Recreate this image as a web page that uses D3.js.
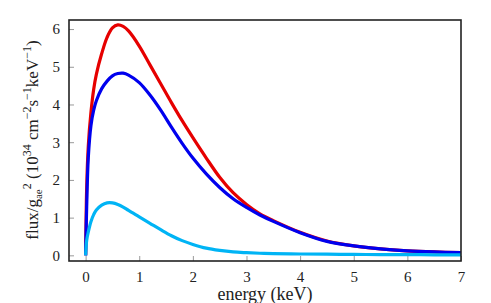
<!DOCTYPE html>
<html>
<head>
<meta charset="utf-8">
<script src="https://cdn.jsdelivr.net/npm/d3@7"></script>
<style>
  body { margin: 0; background: #fff; }
  svg text { font-family: "Liberation Serif", "DejaVu Serif", serif; fill: #222; }
</style>
</head>
<body>
<svg id="chart" width="491" height="303"></svg>
<script>
// energy grid (keV) and the three flux curves
const energy = [0, 0.02, 0.05, 0.1, 0.15, 0.2, 0.3, 0.4, 0.5, 0.6, 0.7, 0.8, 1.0, 1.2, 1.4, 1.6, 1.8,
  2.0, 2.25, 2.5, 2.75, 3.0, 3.25, 3.5, 4.0, 4.5, 5.0, 5.5, 6.0, 6.5, 7.0];
const fluxRed = [0, 1.8, 2.9, 3.8, 4.4, 4.8, 5.35, 5.78, 6.03, 6.11, 6.07, 5.95, 5.55, 5.05, 4.55, 4.05, 3.57,
  3.12, 2.58, 2.07, 1.66, 1.35, 1.1, 0.92, 0.61, 0.38, 0.25, 0.17, 0.12, 0.09, 0.07];
const fluxBlue = [0, 1.3, 2.6, 3.45, 3.85, 4.1, 4.42, 4.62, 4.76, 4.82, 4.83, 4.78, 4.58, 4.25, 3.85, 3.4, 2.97,
  2.58, 2.16, 1.8, 1.5, 1.27, 1.07, 0.9, 0.6, 0.37, 0.25, 0.17, 0.12, 0.09, 0.07];
const fluxCyan = [0, 0.4, 0.62, 0.9, 1.08, 1.2, 1.33, 1.39, 1.39, 1.35, 1.28, 1.19, 1.02, 0.85, 0.68, 0.52, 0.39,
  0.29, 0.19, 0.13, 0.09, 0.07, 0.055, 0.045, 0.035, 0.03, 0.025, 0.02, 0.02, 0.015, 0.015];
const xTicks = [0, 1, 2, 3, 4, 5, 6, 7];
const yTicks = [0, 1, 2, 3, 4, 5, 6];

const series = [
  {name: 'red', color: '#e60000', values: fluxRed},
  {name: 'blue', color: '#0000ee', values: fluxBlue},
  {name: 'cyan', color: '#00b4f5', values: fluxCyan}
];

const serif = '"Liberation Serif", "DejaVu Serif", serif';
const svg = d3.select('#chart');
const margin = {left: 69, top: 20, right: 30, bottom: 42};
const width = 491 - margin.left - margin.right;
const height = 303 - margin.top - margin.bottom;

const x = d3.scaleLinear().domain([-0.31, 7]).range([0, width]);
const y = d3.scaleLinear().domain([-0.15, 6.24]).range([height, 0]);

const g = svg.append('g')
    .attr('transform', 'translate(' + margin.left + ',' + margin.top + ')');

// inner ticks
const xAxis = g.append('g')
    .attr('transform', 'translate(0,' + height + ')')
    .call(d3.axisBottom(x).tickValues(xTicks).tickFormat(d3.format('d'))
      .tickSizeInner(-5).tickSizeOuter(0).tickPadding(10));
const yAxis = g.append('g')
    .call(d3.axisLeft(y).tickValues(yTicks).tickFormat(d3.format('d'))
      .tickSizeInner(-5).tickSizeOuter(0).tickPadding(9));
[xAxis, yAxis].forEach(a => {
  a.attr('font-family', serif).attr('font-size', 15);
  a.select('.domain').remove();
  a.selectAll('.tick line').attr('stroke', '#999');
  a.selectAll('.tick text')
      .style('font-family', serif)
      .style('font-size', '15px')
      .attr('fill', '#222');
});

const line = d3.line()
    .x((d, i) => x(energy[i]))
    .y(d => y(d))
    .curve(d3.curveCatmullRom.alpha(0.5));

g.selectAll('path.curve')
    .data(series)
    .enter().append('path')
    .attr('class', 'curve')
    .attr('fill', 'none')
    .attr('stroke', d => d.color)
    .attr('stroke-width', 3.2)
    .attr('stroke-linejoin', 'round')
    .attr('d', d => line(d.values));

// frame
g.append('rect')
    .attr('width', width)
    .attr('height', height)
    .attr('fill', 'none')
    .attr('stroke', '#222')
    .attr('stroke-width', 1.6);

svg.append('text')
    .attr('x', margin.left + width / 2)
    .attr('y', 300)
    .attr('text-anchor', 'middle')
    .style('font-size', '18px')
    .text('energy (keV)');

const yl = svg.append('text')
    .attr('transform', 'translate(38,140) rotate(-90)')
    .attr('text-anchor', 'middle')
    .style('font-size', '17px');
yl.append('tspan').text('flux/g');
yl.append('tspan').attr('dy', 4).style('font-size', '11px').text('ae');
yl.append('tspan').attr('dy', -11).style('font-size', '12px').text('2');
yl.append('tspan').attr('dy', 7).text(' (10');
yl.append('tspan').attr('dy', -7).style('font-size', '12px').text('34');
yl.append('tspan').attr('dy', 7).text(' cm');
yl.append('tspan').attr('dy', -7).style('font-size', '12px').text('\u22122');
yl.append('tspan').attr('dy', 7).text('s');
yl.append('tspan').attr('dy', -7).style('font-size', '12px').text('\u22121');
yl.append('tspan').attr('dy', 7).text('keV');
yl.append('tspan').attr('dy', -7).style('font-size', '12px').text('\u22121');
yl.append('tspan').attr('dy', 7).text(')');
</script>
</body>
</html>
